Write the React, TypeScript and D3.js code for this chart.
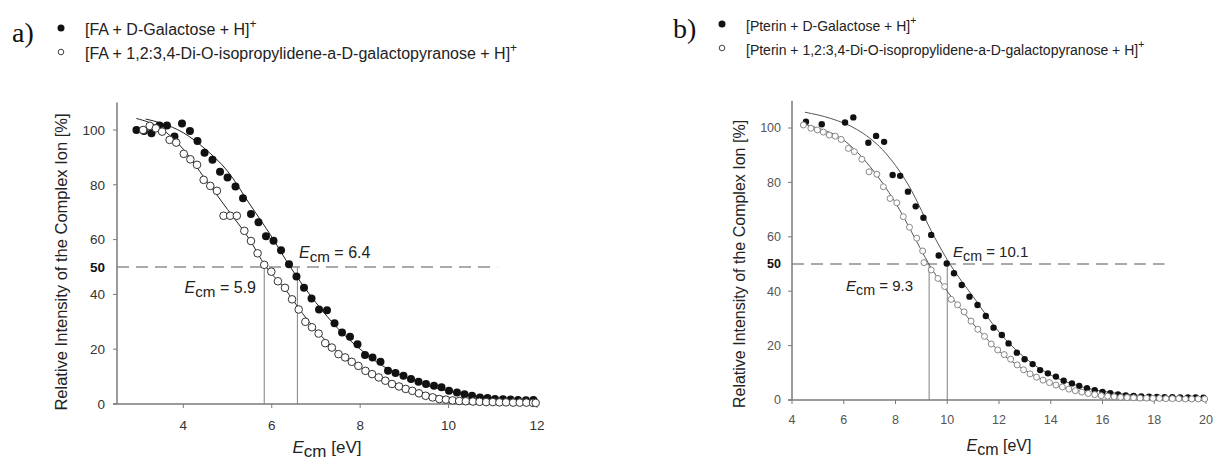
import React from 'react';
import * as d3 from 'd3';

type Pt = [number, number];

// panel a data: [E_cm, intensity %]
const faGal: Pt[] = [
  [2.94, 100], [3.11, 99.6], [3.28, 98.8], [3.46, 101.6], [3.63, 101.6], [3.8, 97.6], [3.97, 102.4],
  [4.15, 99.6], [4.32, 96], [4.48, 91.7], [4.66, 89.1], [4.83, 84.8], [5.0, 82.7], [5.18, 79.4],
  [5.35, 75.1], [5.53, 69.3], [5.7, 66.3], [5.87, 61.2], [6.04, 59.6], [6.21, 56.1], [6.39, 51],
  [6.56, 46.5], [6.73, 42.4], [6.9, 38.5], [7.07, 34.5], [7.25, 34.2], [7.42, 29.5], [7.59, 26.1],
  [7.77, 24.5], [7.94, 21.8], [8.11, 17.9], [8.28, 17], [8.46, 15.4], [8.63, 12.1], [8.8, 11.3],
  [8.98, 10.3], [9.15, 9.1], [9.32, 8.1], [9.49, 7.3], [9.67, 6.7], [9.84, 6.1], [10.01, 4.8],
  [10.19, 4.2], [10.36, 3.6], [10.53, 3], [10.71, 2.4], [10.88, 2.2], [11.05, 1.8], [11.23, 1.7],
  [11.4, 1.6], [11.57, 1.5], [11.75, 1.4], [11.92, 1.5],
];
const faIso: Pt[] = [
  [3.09, 100], [3.24, 101.5], [3.38, 100.6], [3.52, 99.4], [3.69, 96.4], [3.84, 95.4], [4.01, 91.3],
  [4.16, 89.3], [4.31, 87.3], [4.46, 81.8], [4.61, 79.6], [4.76, 77.8], [4.91, 68.7], [5.06, 68.7],
  [5.21, 68.7], [5.38, 63.2], [5.53, 59.5], [5.68, 55], [5.83, 50.8], [5.99, 48.3], [6.14, 44.8],
  [6.3, 42.4], [6.46, 38.2], [6.61, 34.5], [6.76, 30], [6.91, 28], [7.06, 25.7], [7.21, 22.2],
  [7.36, 20.6], [7.51, 18.2], [7.66, 17], [7.81, 15.4], [7.96, 13.9], [8.12, 12.1], [8.27, 10.9],
  [8.42, 9.7], [8.57, 8.5], [8.72, 7.3], [8.88, 6.4], [9.03, 5.5], [9.18, 4.8], [9.33, 3.9],
  [9.48, 3], [9.64, 2.4], [9.79, 1.8], [9.94, 1.6], [10.09, 1.3], [10.24, 1.1], [10.39, 1],
  [10.55, 0.9], [10.7, 0.8], [10.85, 0.7], [11.0, 0.7], [11.15, 0.6], [11.3, 0.6], [11.46, 0.5],
  [11.61, 0.5], [11.76, 0.5], [11.91, 0.4], [11.97, 0.4],
];
const faGalFit: Pt[] = [
  [3.15, 104], [3.5, 102.5], [4, 99], [4.5, 93], [5, 85], [5.5, 73], [6, 61], [6.4, 50.5], [7, 37],
  [7.5, 27.5], [8, 20], [8.5, 14], [9, 10], [9.5, 6.8], [10, 4.7], [10.5, 3.2], [11, 2.2], [11.5, 1.6], [12, 1.2],
];
const faIsoFit: Pt[] = [
  [2.94, 104.2], [3.5, 100.5], [4, 93], [4.5, 82], [5, 71], [5.5, 60], [5.85, 50.5], [6.3, 42], [6.7, 33],
  [7, 27], [7.5, 19], [8, 13.5], [8.5, 9.3], [9, 6.2], [9.5, 3.8], [10, 2.3], [10.5, 1.5], [11, 1],
  [11.5, 0.7], [12, 0.5],
];

// panel b data
const ptGal: Pt[] = [
  [4.54, 102.3], [5.15, 101.4], [6.05, 102], [6.37, 103.9], [6.95, 94.6], [7.25, 97.1], [7.56, 94.9],
  [7.89, 82.7], [8.18, 82.4], [8.48, 76.6], [8.78, 71.2], [9.08, 67], [9.38, 60.7], [9.67, 53.1],
  [9.98, 50.2], [10.26, 46.6], [10.56, 42.3], [10.86, 38], [11.17, 34.9], [11.49, 30.9], [11.79, 26.6],
  [12.11, 23.9], [12.37, 20.8], [12.69, 17.4], [12.99, 15], [13.3, 13.2], [13.59, 11], [13.89, 9.8],
  [14.2, 8.6], [14.5, 7.1], [14.82, 6.1], [15.1, 5.2], [15.4, 4.3], [15.7, 3.6], [16.0, 3], [16.3, 2.5],
  [16.6, 2], [16.9, 1.7], [17.2, 1.5], [17.5, 1.3], [17.8, 1.2], [18.1, 1.1], [18.4, 1], [18.7, 1],
  [19.0, 0.9], [19.3, 0.9], [19.6, 0.9], [19.9, 0.8],
];
const ptIso: Pt[] = [
  [4.44, 101.1], [4.73, 99.9], [4.98, 99.3], [5.21, 98.5], [5.44, 97.4], [5.67, 97], [5.9, 95.8],
  [6.18, 92.5], [6.41, 91.3], [6.7, 88.5], [6.98, 83.9], [7.28, 83], [7.53, 78.4], [7.79, 74.1],
  [8.05, 72.5], [8.3, 67.4], [8.54, 63.5], [8.82, 59.5], [9.05, 54.8], [9.1, 50.5], [9.38, 47.8],
  [9.64, 44.7], [9.9, 41.7], [10.15, 37], [10.4, 35], [10.65, 32.4], [10.92, 29], [11.18, 26],
  [11.44, 23.4], [11.7, 20.6], [11.95, 18.4], [12.2, 16.7], [12.45, 15], [12.7, 12.9], [12.95, 11.1],
  [13.2, 9.6], [13.45, 8.4], [13.7, 7.3], [13.95, 6.4], [14.2, 5.5], [14.45, 4.8], [14.7, 4],
  [14.95, 3.4], [15.2, 2.9], [15.45, 2.4], [15.7, 2], [15.95, 1.6], [16.2, 1.4], [16.45, 1.2],
  [16.7, 1], [16.95, 0.9], [17.2, 0.8], [17.45, 0.7], [17.7, 0.7], [17.95, 0.6], [18.2, 0.6],
  [18.45, 0.5], [18.7, 0.5], [18.95, 0.5], [19.2, 0.4], [19.45, 0.4], [19.7, 0.4], [19.95, 0.4],
];
const ptGalFit: Pt[] = [
  [4.5, 105.8], [5.5, 103.5], [6.5, 99.5], [7.5, 92], [8.5, 79], [9.5, 60], [10.1, 50], [11, 38],
  [12, 25], [13, 15.5], [14, 9.2], [15, 5.4], [16, 3.2], [17, 2], [18, 1.4], [19, 1.1], [20, 1],
];
const ptIsoFit: Pt[] = [
  [4.4, 101.5], [5, 100], [6, 95.5], [7, 86], [8, 72.5], [9, 55], [9.3, 49.8], [10, 40], [11, 28],
  [12, 18], [13, 11], [14, 6.2], [15, 3.4], [16, 1.8], [17, 1], [18, 0.6], [19, 0.4], [20, 0.3],
];

const yTicks = [0, 20, 40, 60, 80, 100];
const xTicksA = [4, 6, 8, 10, 12];
const xTicksB = [4, 6, 8, 10, 12, 14, 16, 18, 20];
const ecmA = [5.83, 6.58];
const ecmB = [9.3, 10.0];

const font = "'Liberation Sans', Arial, sans-serif";
const axisColor = '#7a7a7a';

const Ecm = ({ x, y, anchor, size, value }) => (
  <text x={x} y={y} textAnchor={anchor} fontSize={size} fontFamily={font} fill="#222">
    <tspan fontStyle="italic">E</tspan>
    <tspan dy={4} fontSize={size * 0.95}>cm</tspan>
    <tspan dy={-4}>{` = ${value}`}</tspan>
  </text>
);

const Panel = (p) => {
  const x = d3.scaleLinear().domain(p.xDomain).range(p.xRange);
  const y = d3.scaleLinear().domain([0, 110]).range(p.yRange);
  const line = d3.line<Pt>().x((d) => x(d[0])).y((d) => y(d[1])).curve(d3.curveMonotoneX);
  const x0 = p.xRange[0];
  const xEnd = p.xRange[1];
  return (
    <g fontFamily={font}>
      {/* dashed 50% line */}
      <line x1={x0} x2={x(p.dashEnd)} y1={y(50)} y2={y(50)} stroke="#aaa" strokeWidth={2} strokeDasharray="12 7" />
      {p.ecm.map((e) => (
        <line key={e} x1={x(e)} x2={x(e)} y1={y(50)} y2={y(0)} stroke="#808080" strokeWidth={1} />
      ))}
      {/* axes */}
      <line x1={x0 - 4} x2={xEnd} y1={y(0)} y2={y(0)} stroke={axisColor} strokeWidth={1.5} />
      <line x1={x0} x2={x0} y1={y(0)} y2={y(110)} stroke={axisColor} strokeWidth={1.5} />
      {p.xTicks.map((t) => (
        <g key={t}>
          <line x1={x(t)} x2={x(t)} y1={y(0)} y2={y(0) + 4} stroke={axisColor} />
          <text x={x(t)} y={y(0) + p.xLabOff} textAnchor="middle" fontSize={p.tickSize} fill={p.tickColor}>{t}</text>
        </g>
      ))}
      {yTicks.map((t) => (
        <g key={t}>
          <line x1={x0 - 4} x2={x0} y1={y(t)} y2={y(t)} stroke={axisColor} />
          <text x={x0 - p.yLabOff} y={y(t) + p.tickSize * 0.35} textAnchor="end" fontSize={p.tickSize} fill={p.tickColor}>{t}</text>
        </g>
      ))}
      <text x={x0 - p.yLabOff} y={y(50) + p.tickSize * 0.35} textAnchor="end" fontSize={p.tickSize} fontWeight="bold" fill="#111">50</text>
      {/* fits */}
      <path d={line(p.fit1)} fill="none" stroke={p.fitColor} strokeWidth={1} />
      <path d={line(p.fit2)} fill="none" stroke={p.fitColor} strokeWidth={1} />
      {p.filled.map((d, i) => (
        <circle key={'f' + i} cx={x(d[0])} cy={y(d[1])} r={p.rFilled} fill="#111" />
      ))}
      {p.open.map((d, i) => (
        <circle key={'o' + i} cx={x(d[0])} cy={y(d[1])} r={p.rOpen} fill="#fff" stroke={p.openStroke} strokeWidth={1} />
      ))}
      {/* axis titles */}
      <text transform={`translate(${p.yTitleX},${p.yTitleY}) rotate(-90)`} textAnchor="middle" fontSize={p.yTitleSize} fill="#222">
        Relative Intensity of the Complex Ion [%]
      </text>
      <text x={(x0 + xEnd) / 2} y={p.xTitleY} textAnchor="middle" fontSize={p.xTitleSize} fill="#222">
        <tspan fontStyle="italic">E</tspan>
        <tspan dy={4}>cm</tspan>
        <tspan dy={-4}> [eV]</tspan>
      </text>
    </g>
  );
};

const Legend = ({ x, y, tag, lines, size }) => (
  <g fontFamily={font}>
    <text x={x} y={y + 10} fontSize={28} fontFamily="'Liberation Serif', 'Times New Roman', serif" fill="#111">{tag}</text>
    <circle cx={x + 49} cy={y - 4} r={3.5} fill="#111" />
    <circle cx={x + 49} cy={y + 20} r={2.8} fill="#fff" stroke="#444" strokeWidth={1} />
    {lines.map((l, i) => (
      <text key={i} x={x + 73} y={y + 3 + i * 24} fontSize={size} fill="#222">
        {l}
        <tspan dy={-7} fontSize={size * 0.75}>+</tspan>
      </text>
    ))}
  </g>
);

const App = () => (
  <svg width={1228} height={463} style={{ position: 'absolute', left: 0, top: 0, background: '#fff' }}>
    <Legend x={12} y={32} tag="a)" size={16}
      lines={['[FA + D-Galactose + H]', '[FA + 1,2:3,4-Di-O-isopropylidene-a-D-galactopyranose + H]']} />
    <Legend x={673} y={28} tag="b)" size={14}
      lines={['[Pterin + D-Galactose + H]', '[Pterin + 1,2:3,4-Di-O-isopropylidene-a-D-galactopyranose + H]']} />
    <Panel xDomain={[2.5, 12]} xRange={[117, 537]} yRange={[404, 102.6]} xTicks={xTicksA}
      filled={faGal} open={faIso} fit1={faGalFit} fit2={faIsoFit} ecm={ecmA} dashEnd={11.1}
      rFilled={4} rOpen={3.8} openStroke="#333" fitColor="#222" tickSize={13.5} tickColor="#333" xLabOff={26} yLabOff={12}
      yTitleX={67} yTitleY={262} yTitleSize={16.5} xTitleY={453} xTitleSize={17} />
    <Panel xDomain={[4, 20]} xRange={[792, 1206]} yRange={[400, 100.8]} xTicks={xTicksB}
      filled={ptGal} open={ptIso} fit1={ptGalFit} fit2={ptIsoFit} ecm={ecmB} dashEnd={18.4}
      rFilled={3.2} rOpen={3} openStroke="#888" fitColor="#555" tickSize={12.5} tickColor="#555" xLabOff={24} yLabOff={11}
      yTitleX={745} yTitleY={264} yTitleSize={16} xTitleY={451} xTitleSize={16} />
    <Ecm x={256} y={293} anchor="end" size={16} value="5.9" />
    <Ecm x={299} y={258} anchor="start" size={16} value="6.4" />
    <Ecm x={913} y={291} anchor="end" size={15} value="9.3" />
    <Ecm x={953} y={257} anchor="start" size={15} value="10.1" />
  </svg>
);

export default App;
